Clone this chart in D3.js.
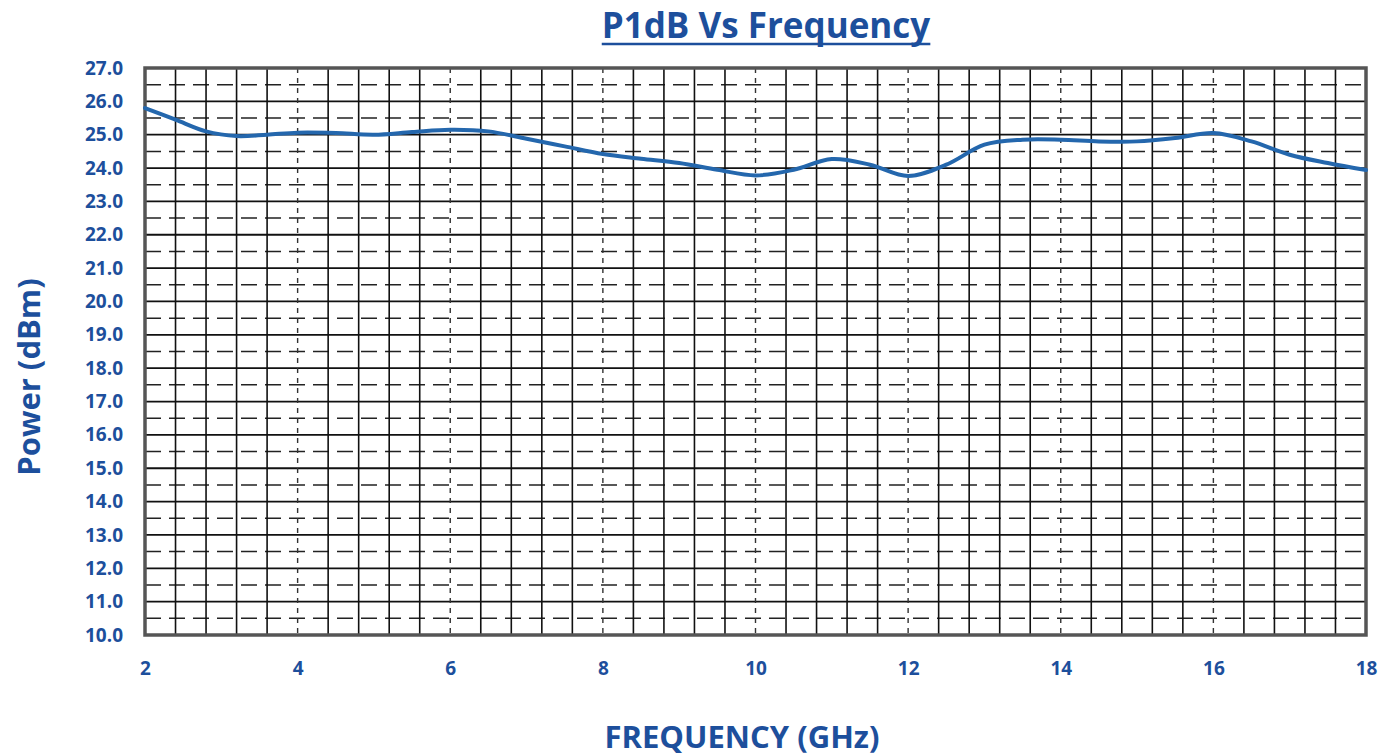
<!DOCTYPE html>
<html><head><meta charset="utf-8">
<script src="https://cdn.jsdelivr.net/npm/d3@7"></script>
<style>body{margin:0;background:#fff;} svg{display:block;}</style>
</head><body>
<svg id="c" width="1382" height="756"></svg>
<script>
const frequency = [2, 2.4, 2.8, 3.2, 3.6, 4, 4.5, 5, 5.5, 6, 6.5, 7, 7.5, 8, 8.5, 9, 9.5, 10, 10.5, 11, 11.5, 12, 12.5, 13, 13.5, 14, 14.5, 15, 15.5, 16, 16.5, 17, 17.5, 18];
const power = [25.8, 25.45, 25.1, 24.96, 25.0, 25.06, 25.05, 25.0, 25.08, 25.15, 25.1, 24.88, 24.65, 24.42, 24.28, 24.15, 23.95, 23.78, 23.95, 24.27, 24.1, 23.76, 24.1, 24.7, 24.85, 24.85, 24.8, 24.8, 24.9, 25.05, 24.8, 24.4, 24.15, 23.94];
const yTicks = [10,11,12,13,14,15,16,17,18,19,20,21,22,23,24,25,26,27];
const xTicks = [2,4,6,8,10,12,14,16,18];

const svg = d3.select('#c');
const L = 145, R = 1366, T = 68, B = 635;
const x = d3.scaleLinear().domain([2,18]).range([L,R]);
const y = d3.scaleLinear().domain([10,27]).range([B,T]);
const blue = '#1d4f9c';
const font = "'Open Sans', sans-serif";

const g = svg.append('g');
const halfY = d3.range(10.5, 27, 1);
g.selectAll('.hd').data(halfY).join('line')
  .attr('x1', L).attr('x2', R).attr('y1', d=>y(d)).attr('y2', d=>y(d))
  .attr('stroke', '#222').attr('stroke-width', 1.5).attr('stroke-dasharray', '16,8');
g.selectAll('.hs').data(yTicks.slice(1,-1)).join('line')
  .attr('x1', L).attr('x2', R).attr('y1', d=>y(d)).attr('y2', d=>y(d))
  .attr('stroke', '#111').attr('stroke-width', 1.8);
const minorX = d3.range(2.4, 18, 0.4).map(v=>+v.toFixed(1)).filter(v=>Math.abs(v/2-Math.round(v/2))>1e-6);
g.selectAll('.vs').data(minorX).join('line')
  .attr('y1', T).attr('y2', B).attr('x1', d=>x(d)).attr('x2', d=>x(d))
  .attr('stroke', '#111').attr('stroke-width', 1.6);
g.selectAll('.vd').data(xTicks.slice(1,-1)).join('line')
  .attr('y1', T).attr('y2', B).attr('x1', d=>x(d)).attr('x2', d=>x(d))
  .attr('stroke', '#333').attr('stroke-width', 1.4).attr('stroke-dasharray', '5,5');

svg.append('rect').attr('x', L).attr('y', T).attr('width', R-L).attr('height', B-T)
  .attr('fill','none').attr('stroke','#555').attr('stroke-width',3.5);

const line = d3.line().x((d,i)=>x(frequency[i])).y(d=>y(d)).curve(d3.curveCatmullRom.alpha(0.5));
svg.append('path').datum(power).attr('d', line).attr('fill','none')
  .attr('stroke','#2467ad').attr('stroke-width',4).attr('stroke-linecap','round');

const yAxis = d3.axisLeft(y).tickValues(yTicks).tickFormat(d3.format('.1f')).tickSize(0).tickPadding(22);
const ya = svg.append('g').attr('transform',`translate(${L},0)`).call(yAxis);
ya.select('.domain').remove();
ya.selectAll('text').attr('fill', blue).style('font', `bold 19px ${font}`);

const xAxis = d3.axisBottom(x).tickValues(xTicks).tickFormat(d3.format('d')).tickSize(0).tickPadding(27);
const xa = svg.append('g').attr('transform',`translate(0,${B})`).call(xAxis);
xa.select('.domain').remove();
xa.selectAll('text').attr('fill', blue).style('font', `bold 19px ${font}`);

const title = svg.append('text').attr('x', 766).attr('y', 38).attr('text-anchor','middle')
  .attr('fill', blue).style('font', `bold 35px ${font}`).text('P1dB Vs Frequency');
const bb = title.node().getBBox();
svg.append('line').attr('x1', bb.x).attr('x2', bb.x+bb.width).attr('y1', 44).attr('y2', 44)
  .attr('stroke', blue).attr('stroke-width', 2.5);

svg.append('text').attr('transform','translate(40,377) rotate(-90)').attr('text-anchor','middle')
  .attr('fill', blue).style('font', `bold 31px ${font}`).text('Power (dBm)');
svg.append('text').attr('x', 742).attr('y', 748).attr('text-anchor','middle')
  .attr('fill', blue).style('font', `bold 31px ${font}`).text('FREQUENCY (GHz)');
</script>
</body></html>
